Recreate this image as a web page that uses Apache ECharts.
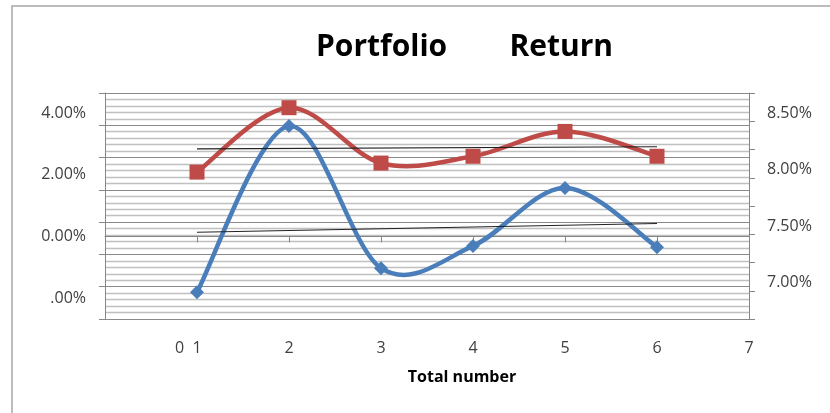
<!DOCTYPE html>
<html>
<head>
<meta charset="utf-8">
<script src="https://cdn.jsdelivr.net/npm/echarts@6/dist/echarts.min.js"></script>
<style>
  html, body { margin: 0; padding: 0; background: #fff; }
  #chart { width: 830px; height: 413px; }
</style>
</head>
<body>
<div id="chart"></div>
<script>
(function(){
  // valores
  const xValues = [1, 2, 3, 4, 5, 6];
  const blueReturn = [-1.81, 3.58, -1.03, -0.31, 1.57, -0.35];   // eje izquierdo, %
  const redReturn = [8.05, 8.62, 8.13, 8.19, 8.41, 8.19];        // eje derecho, %
  const leftLabels = [-2, 0, 2, 4];
  const rightLabels = [7, 7.5, 8, 8.5];

  const BLUE = '#4a7ebb', RED = '#be4b48';

  // tendencia lineal (como la de Excel)
  function trend(ys) {
    const n = xValues.length;
    const mx = xValues.reduce((a, b) => a + b, 0) / n;
    const my = ys.reduce((a, b) => a + b, 0) / n;
    let sxy = 0, sxx = 0;
    for (let i = 0; i < n; i++) {
      sxy += (xValues[i] - mx) * (ys[i] - my);
      sxx += (xValues[i] - mx) * (xValues[i] - mx);
    }
    const b = sxy / sxx, a = my - b * mx;
    const x0 = xValues[0], x1 = xValues[n - 1];
    return [[x0, a + b * x0], [x1, a + b * x1]];
  }
  const pairs = ys => xValues.map((x, i) => [x, ys[i]]);

  // curva suavizada tipo Excel (Catmull-Rom), un tramo por punto
  function smoothCurve(ys, color, axisIdx) {
    const pts = pairs(ys);
    return {
      type: 'custom',
      yAxisIndex: axisIdx,
      data: pts,
      encode: { x: 0, y: 1 },
      renderItem: function (params, api) {
        const i = params.dataIndex, n = pts.length;
        if (i >= n - 1) return null;
        const c = k => api.coord(pts[Math.max(0, Math.min(n - 1, k))]);
        const p0 = c(i - 1), p1 = c(i), p2 = c(i + 1), p3 = c(i + 2);
        return {
          type: 'bezierCurve',
          shape: {
            x1: p1[0], y1: p1[1], x2: p2[0], y2: p2[1],
            cpx1: p1[0] + (p2[0] - p0[0]) / 6, cpy1: p1[1] + (p2[1] - p0[1]) / 6,
            cpx2: p2[0] - (p3[0] - p1[0]) / 6, cpy2: p2[1] - (p3[1] - p1[1]) / 6
          },
          style: { stroke: color, lineWidth: 4.5, fill: null, lineCap: 'round' }
        };
      }
    };
  }

  const labelFont = { fontFamily: 'Open Sans', fontSize: 16, color: '#404040' };
  const leftMin = -2.68, leftMax = 4.65;

  const chart = echarts.init(document.getElementById('chart'));
  chart.setOption({
    animation: false,
    backgroundColor: '#fff',
    title: {
      text: 'Portfolio        Return',
      left: 316,
      top: 32,
      padding: 0,
      textStyle: { fontFamily: 'Open Sans', fontWeight: 'bold', fontSize: 30, color: '#000' }
    },
    graphic: [{
      type: 'polyline',
      shape: { points: [[12, 413], [12, 6], [830, 6]] },
      style: { stroke: '#a6a6a6', lineWidth: 1.5, fill: null },
      silent: true
    }],
    grid: { left: 105, right: 81, top: 93, bottom: 94 },
    xAxis: {
      type: 'value',
      min: 0, max: 7, interval: 1,
      name: 'Total number',
      nameLocation: 'middle',
      nameGap: 50,
      nameTextStyle: { fontFamily: 'Open Sans', fontWeight: 'bold', fontSize: 16, color: '#000', padding: [0, 0, 0, 70] },
      axisLine: { lineStyle: { color: '#868686', width: 1 } },
      axisTick: { length: 6, lineStyle: { color: '#868686' } },
      splitLine: { show: false },
      axisLabel: Object.assign({}, labelFont, {
        margin: 21,
        formatter: v => v === 0 ? '' : (v === 1 ? '0  1{h|0  }' : String(v)),
        rich: { h: { color: 'transparent', fontFamily: 'Open Sans', fontSize: 16 } }
      })
    },
    yAxis: [{
      type: 'value',
      position: 'left',
      min: leftMin, max: leftMax,
      interval: (leftMax - leftMin) / 7,
      axisLine: { show: true, lineStyle: { color: '#868686', width: 1 } },
      axisTick: { show: true, length: 6, lineStyle: { color: '#868686' } },
      splitLine: { show: true, lineStyle: { color: '#8a8a8a', width: 1 } },
      minorTick: { show: false, splitNumber: 5 },
      minorSplitLine: { show: true, lineStyle: { color: '#c0c0c0', width: 1.3 } },
      axisLabel: Object.assign({}, labelFont, {
        margin: 19,
        customValues: leftLabels,
        formatter: v => v === -2 ? '.00%' : v.toFixed(2) + '%'
      })
    }, {
      type: 'value',
      position: 'right',
      min: 6.75, max: 8.75, interval: 0.25,
      axisLine: { show: true, lineStyle: { color: '#868686', width: 1 } },
      axisTick: { show: true, length: 6, lineStyle: { color: '#868686' } },
      splitLine: { show: false },
      axisLabel: Object.assign({}, labelFont, {
        margin: 18,
        verticalAlign: 'bottom',
        customValues: rightLabels,
        formatter: v => v.toFixed(2) + '%'
      })
    }],
    series: [
      smoothCurve(blueReturn, BLUE, 0),
      {
        type: 'scatter',
        yAxisIndex: 0,
        data: pairs(blueReturn),
        symbol: 'diamond',
        symbolSize: 14,
        itemStyle: { color: BLUE, opacity: 1 }
      },
      smoothCurve(redReturn, RED, 1),
      {
        type: 'scatter',
        yAxisIndex: 1,
        data: pairs(redReturn),
        symbol: 'rect',
        symbolSize: 15,
        itemStyle: { color: RED, opacity: 1 }
      },
      {
        type: 'line',
        yAxisIndex: 0,
        data: trend(blueReturn),
        symbol: 'none',
        lineStyle: { color: '#222', width: 1.2 },
        z: 5
      }, {
        type: 'line',
        yAxisIndex: 1,
        data: trend(redReturn),
        symbol: 'none',
        lineStyle: { color: '#222', width: 1.2 },
        z: 5
      }
    ]
  });

  window.addEventListener('resize', () => chart.resize());
})();
</script>
</body>
</html>
